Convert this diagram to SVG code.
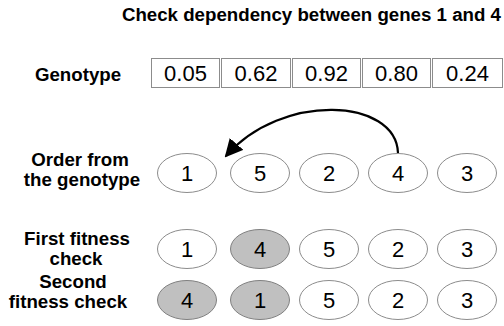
<svg xmlns="http://www.w3.org/2000/svg" width="504" height="326" viewBox="0 0 504 326">
<defs>
<style>
.lbl{font-family:"Liberation Sans",Arial,sans-serif;font-weight:bold;font-size:18.7px;fill:#000;text-anchor:middle}
.ttl{font-family:"Liberation Sans",Arial,sans-serif;font-weight:bold;font-size:18.7px;fill:#000;text-anchor:end}
.num{font-family:"Liberation Sans",Arial,sans-serif;font-size:22px;fill:#000;text-anchor:middle}
.box{fill:#fff;stroke:#8c8c8c;stroke-width:1}
.el{fill:#fff;stroke:#8c8c8c;stroke-width:1}
.elg{fill:#c0c0c0;stroke:#808080;stroke-width:1}
.arr{fill:none;stroke:#000;stroke-width:2.2}
</style>
<marker id="ahb" markerWidth="18" markerHeight="18" refX="16" refY="9" orient="auto" markerUnits="userSpaceOnUse" viewBox="0 0 18 18">
<path d="M0,0 L18,9 L0,18 z" fill="#000"/>
</marker>
</defs>
<rect width="504" height="326" fill="#fff"/>
<text class="ttl" x="501" y="21">Check dependency between genes 1 and 4</text>

<g id="labels">
<text class="lbl" x="78" y="81">Genotype</text>
<text class="lbl" x="80" y="166">Order from</text>
<text class="lbl" x="82" y="186">the genotype</text>
<text class="lbl" x="77" y="245">First fitness</text>
<text class="lbl" x="76" y="265">check</text>
<text class="lbl" x="73" y="288">Second</text>
<text class="lbl" x="68" y="308">fitness check</text>
</g>

<g id="genotype">
<g id="g1"><rect class="box" x="151.5" y="58.5" width="68" height="29"/><text class="num" x="185.5" y="81">0.05</text></g>
<g id="g2"><rect class="box" x="221.5" y="58.5" width="69" height="29"/><text class="num" x="256" y="81">0.62</text></g>
<g id="g3"><rect class="box" x="292.5" y="58.5" width="68" height="29"/><text class="num" x="326.5" y="81">0.92</text></g>
<g id="g4"><rect class="box" x="362.5" y="58.5" width="68" height="29"/><text class="num" x="396.5" y="81">0.80</text></g>
<g id="g5"><rect class="box" x="432.5" y="58.5" width="70" height="29"/><text class="num" x="467.5" y="81">0.24</text></g>
</g>

<g id="order">
<g id="o1"><ellipse class="el" cx="187" cy="173" rx="29.5" ry="19.5"/><text class="num" x="187" y="181">1</text></g>
<g id="o5"><ellipse class="el" cx="260" cy="173" rx="29.5" ry="19.5"/><text class="num" x="260" y="181">5</text></g>
<g id="o2"><ellipse class="el" cx="329" cy="173" rx="29.5" ry="19.5"/><text class="num" x="329" y="181">2</text></g>
<g id="o4"><ellipse class="el" cx="398" cy="173" rx="29.5" ry="19.5"/><text class="num" x="398" y="181">4</text></g>
<g id="o3"><ellipse class="el" cx="467" cy="173" rx="29.5" ry="19.5"/><text class="num" x="467" y="181">3</text></g>
</g>

<g id="first">
<g id="f1"><ellipse class="el" cx="187" cy="249" rx="29.5" ry="19.5"/><text class="num" x="187" y="257">1</text></g>
<g id="f4"><ellipse class="elg" cx="260" cy="249" rx="29.5" ry="19.5"/><text class="num" x="260" y="257">4</text></g>
<g id="f5"><ellipse class="el" cx="329" cy="249" rx="29.5" ry="19.5"/><text class="num" x="329" y="257">5</text></g>
<g id="f2"><ellipse class="el" cx="398" cy="249" rx="29.5" ry="19.5"/><text class="num" x="398" y="257">2</text></g>
<g id="f3"><ellipse class="el" cx="467" cy="249" rx="29.5" ry="19.5"/><text class="num" x="467" y="257">3</text></g>
</g>

<g id="second">
<g id="s4"><ellipse class="elg" cx="187" cy="300" rx="29.5" ry="19.5"/><text class="num" x="187" y="308">4</text></g>
<g id="s1"><ellipse class="elg" cx="260" cy="300" rx="29.5" ry="19.5"/><text class="num" x="260" y="308">1</text></g>
<g id="s5"><ellipse class="el" cx="329" cy="300" rx="29.5" ry="19.5"/><text class="num" x="329" y="308">5</text></g>
<g id="s2"><ellipse class="el" cx="398" cy="300" rx="29.5" ry="19.5"/><text class="num" x="398" y="308">2</text></g>
<g id="s3"><ellipse class="el" cx="467" cy="300" rx="29.5" ry="19.5"/><text class="num" x="467" y="308">3</text></g>
</g>

<g id="connectors">
<path class="arr" d="M398,153 C396,98 282,92 226,156" marker-end="url(#ahb)"/>
</g>
</svg>
